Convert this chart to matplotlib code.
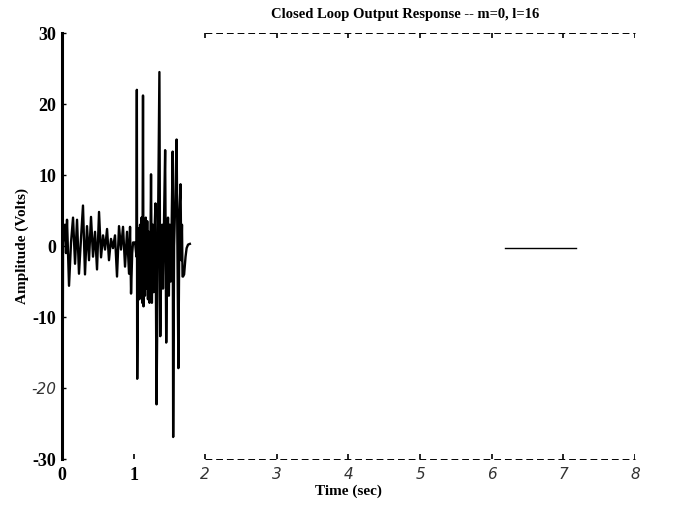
"""Closed loop output response plot (m=0, l=16)."""

import matplotlib

matplotlib.use("Agg")
import matplotlib.pyplot as plt

# sampled output, time in seconds and amplitude in volts
time_s = [
    0.000, 0.004, 0.008, 0.014, 0.042, 0.056, 0.070, 0.098, 0.126, 0.154,
    0.182, 0.210, 0.237, 0.265, 0.293, 0.321, 0.349, 0.377, 0.405, 0.433,
    0.461, 0.489, 0.517, 0.545, 0.573, 0.601, 0.629, 0.656, 0.684, 0.712,
    0.740, 0.768, 0.796, 0.824, 0.852, 0.880, 0.908, 0.936, 0.950, 0.964,
    0.980, 0.992, 1.020, 1.040, 1.045, 1.050, 1.060, 1.070, 1.080, 1.090,
    1.100, 1.110, 1.120, 1.125, 1.131, 1.138, 1.148, 1.158, 1.170, 1.180,
    1.190, 1.200, 1.212, 1.222, 1.230, 1.243, 1.255, 1.268, 1.280, 1.292,
    1.305, 1.320, 1.335, 1.360, 1.372, 1.385, 1.398, 1.410, 1.425, 1.440,
    1.455, 1.468, 1.480, 1.492, 1.505, 1.518, 1.530, 1.545, 1.552, 1.565,
    1.585, 1.600, 1.610, 1.625, 1.640, 1.655, 1.665, 1.675, 1.683, 1.690,
    1.705, 1.725, 1.740, 1.760, 1.785,
]
amplitude_v = [
    0.0, 8.0, -29.0, 0.5, 3.0, -1.0, 3.7, -5.6, 0.5, 4.0,
    -2.5, 3.7, -3.9, 1.0, 5.7, -4.0, 2.8, -2.0, 4.1, -1.5,
    2.0, -3.3, 4.8, -1.6, 1.5, -0.5, 2.4, -2.0, 1.0, -0.3,
    1.5, -4.3, 2.8, -0.5, 2.7, -2.9, 2.0, -3.9, 2.7, -6.7,
    -1.0, 0.5, 0.5, -1.5, 22.0, -18.7, -5.0, 2.5, -7.5, 3.0,
    -6.5, 4.0, -8.0, 1.0, 21.2, -8.5, 2.5, -7.0, 4.0, -6.0,
    3.5, -7.5, 2.0, -8.0, -6.0, 10.1, -8.0, 3.0, -6.5, 2.0,
    6.0, -22.3, -4.0, 24.5, -12.7, -3.0, 3.0, -6.0, 4.0, 13.5,
    -13.6, -2.0, 4.0, -7.0, 3.0, -5.0, 2.0, 13.3, -26.9, 0.0,
    8.0, 15.0, 2.0, -17.2, 5.0, 8.7, -2.0, 3.0, -4.3, -4.3,
    -4.0, -1.5, -0.3, 0.2, 0.3,
]

# steady-state reference segment
ref_time = [6.19, 7.18]
ref_level = [-0.3, -0.3]

x_ticks = [0, 1, 2, 3, 4, 5, 6, 7, 8]
y_ticks = [-30, -20, -10, 0, 10, 20, 30]
y_tick_labels = ["-30", "-20", "-10", "0", "10", "20", "30"]

fig = plt.figure(figsize=(6.99, 5.29), dpi=100)
ax = fig.add_axes([0.0887, 0.1323, 0.8197, 0.8053])

ax.plot(time_s, amplitude_v, color="black", linewidth=1.7)
ax.plot(ref_time, ref_level, color="black", linewidth=1.0)

ax.set_xlim(0, 8)
ax.set_ylim(-30, 30)

for side in ("top", "bottom", "right"):
    ax.spines[side].set_visible(False)
ax.spines["left"].set_linewidth(2.2)

# broken frame lines on the right part of the plot
ax.hlines([30, -30], 2, 8, colors="black", linestyles=(0, (7, 4)),
          linewidth=0.7, clip_on=False)
ax.vlines(x_ticks[2:], 29.3, 30, colors="black", linewidth=1.2)
ax.vlines(x_ticks[2:], -30, -29.3, colors="black", linewidth=1.2)
ax.vlines([1], -30, -29.3, colors="black", linewidth=1.2)

ax.set_xticks(x_ticks)
ax.set_yticks(y_ticks)
ax.tick_params(axis="x", length=0, pad=6)
ax.tick_params(axis="y", direction="in", length=3, width=1, pad=4)

ax.set_xticklabels([str(t) for t in x_ticks])
ax.set_yticklabels(y_tick_labels)
for lbl in ax.get_xticklabels():
    if lbl.get_text() in ("0", "1"):
        lbl.set_fontfamily("Liberation Serif")
        lbl.set_fontweight("bold")
        lbl.set_fontsize(13)
    else:
        lbl.set_fontfamily("DejaVu Sans")
        lbl.set_fontstyle("italic")
        lbl.set_fontsize(11)
        lbl.set_color("#333333")
for lbl in ax.get_yticklabels():
    if lbl.get_text() == "-20":
        lbl.set_fontfamily("DejaVu Sans")
        lbl.set_fontstyle("italic")
        lbl.set_fontsize(11)
        lbl.set_color("#333333")
    else:
        lbl.set_fontfamily("Liberation Serif")
        lbl.set_fontweight("bold")
        lbl.set_fontsize(13)

fig.text(0.580, 0.972, "Closed Loop Output Response -- m=0, l=16",
         ha="center", va="center", fontsize=10.5, fontweight="bold",
         family="Liberation Serif")
ax.set_xlabel("Time (sec)", fontsize=11, fontweight="bold",
              family="Liberation Serif", labelpad=0)
ax.set_ylabel("Amplitude (Volts)", fontsize=11, fontweight="bold",
              family="Liberation Serif", labelpad=2)

fig.savefig("out.png", dpi=100)
